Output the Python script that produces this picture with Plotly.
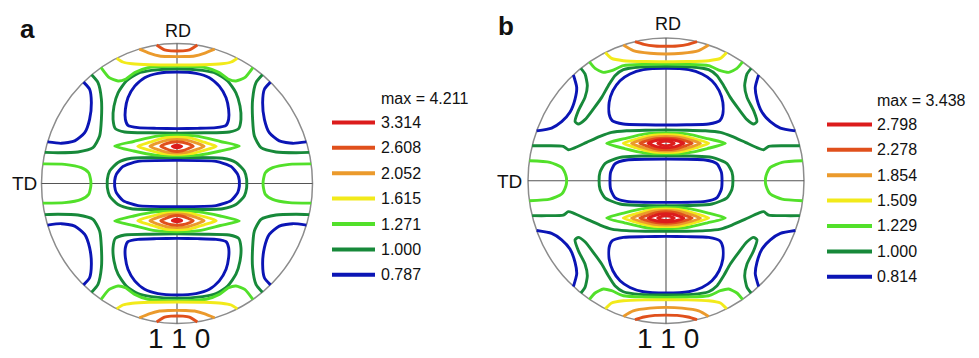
import plotly.graph_objects as go

W, H = 979, 358
FONT = "Liberation Sans, Arial, sans-serif"

# ---------------- legend data ----------------
A_LEVELS = ["3.314", "2.608", "2.052", "1.615", "1.271", "1.000", "0.787"]
A_MAX = "max = 4.211"
B_LEVELS = ["2.798", "2.278", "1.854", "1.509", "1.229", "1.000", "0.814"]
B_MAX = "max = 3.438"
LEVEL_COLORS = ["#dc1c1c", "#e0501c", "#eb9a2c", "#f2ea1a", "#52e02a", "#17893a", "#0b15b5"]

# ---------------- contour data (upper-left quadrant, unit circle) ----------------
# panel a
A_CAP_1 = [(-0.15, 0.989), (-0.092, 0.954), (-0.045, 0.947), (0, 0.946)]
A_CAP_2 = [(-0.278, 0.96), (-0.2, 0.93), (-0.129, 0.911), (-0.06, 0.907), (0, 0.906)]
A_CAP_3 = [(-0.445, 0.895), (-0.40, 0.868), (-0.33, 0.855), (-0.2, 0.848), (0, 0.846)]
A_CAP_4 = [(-0.56, 0.828), (-0.50, 0.756), (-0.435, 0.732), (-0.381, 0.744), (-0.312, 0.792),
           (-0.214, 0.827), (-0.1, 0.835), (0, 0.837)]
A_LOOP_DG = [(0, 0.820), (-0.189, 0.808), (-0.288, 0.787), (-0.374, 0.732), (-0.435, 0.648),
             (-0.465, 0.553), (-0.472, 0.458), (-0.455, 0.392), (-0.386, 0.368), (-0.2, 0.362), (0, 0.360)]
A_LOOP_BL = [(0, 0.796), (-0.140, 0.787), (-0.239, 0.756), (-0.312, 0.696), (-0.362, 0.613),
             (-0.381, 0.530), (-0.381, 0.458), (-0.362, 0.415), (-0.288, 0.399), (-0.15, 0.394), (0, 0.392)]
A_SPOT_0 = [(0, 0.274), (-0.02, 0.271), (-0.035, 0.265), (-0.02, 0.258), (0, 0.255)]
A_SPOT_1 = [(0, 0.298), (-0.04, 0.295), (-0.085, 0.283), (-0.12, 0.266), (-0.085, 0.25), (-0.04, 0.234), (0, 0.229)]
A_SPOT_2 = [(0, 0.315), (-0.07, 0.31), (-0.14, 0.29), (-0.20, 0.266), (-0.14, 0.242), (-0.07, 0.223), (0, 0.218)]
A_SPOT_3 = [(0, 0.33), (-0.10, 0.324), (-0.20, 0.295), (-0.29, 0.266), (-0.20, 0.237), (-0.10, 0.213), (0, 0.208)]
A_SPOT_4 = [(0, 0.345), (-0.16, 0.337), (-0.32, 0.30), (-0.46, 0.268), (-0.32, 0.232), (-0.16, 0.203), (0, 0.198)]
A_CORNER_BL = [(-0.69, 0.724), (-0.645, 0.673), (-0.632, 0.577), (-0.645, 0.458), (-0.681, 0.363),
               (-0.755, 0.304), (-0.854, 0.287), (-0.955, 0.297)]
A_CORNER_DG = [(-0.63, 0.776), (-0.583, 0.720), (-0.558, 0.601), (-0.558, 0.458), (-0.571, 0.339),
               (-0.620, 0.256), (-0.731, 0.225), (-0.878, 0.220), (-0.975, 0.222)]
A_SIDE_LG = [(-0.99, 0.14), (-0.829, 0.137), (-0.706, 0.113), (-0.652, 0.077), (-0.638, 0.03), (-0.635, 0)]
A_CENTER_DG = [(0, 0.185), (-0.337, 0.18), (-0.435, 0.15), (-0.497, 0.089), (-0.514, 0.03), (-0.515, 0)]
A_CENTER_BL = [(0, 0.165), (-0.288, 0.158), (-0.398, 0.122), (-0.448, 0.065), (-0.46, 0.02), (-0.46, 0)]

# panel b
B_CAP_1 = [(-0.225, 0.974), (-0.16, 0.955), (-0.08, 0.944), (0, 0.942)]
B_CAP_2 = [(-0.309, 0.951), (-0.237, 0.912), (-0.116, 0.893), (0, 0.888)]
B_CAP_3 = [(-0.44, 0.898), (-0.394, 0.857), (-0.309, 0.841), (-0.15, 0.835), (0, 0.834)]
B_CAP_4 = [(-0.555, 0.832), (-0.514, 0.787), (-0.454, 0.759), (-0.394, 0.771), (-0.309, 0.806),
           (-0.15, 0.815), (0, 0.818)]
B_SPIKE_DG = [(-0.617, 0.787), (-0.587, 0.748), (-0.570, 0.666), (-0.587, 0.584), (-0.635, 0.491),
              (-0.659, 0.414), (-0.635, 0.397), (-0.587, 0.428), (-0.527, 0.502), (-0.466, 0.584),
              (-0.418, 0.666), (-0.370, 0.736), (-0.309, 0.778), (-0.188, 0.797), (0, 0.801)]
B_LOOP_BL = [(0, 0.787), (-0.164, 0.778), (-0.261, 0.748), (-0.333, 0.701), (-0.385, 0.631),
             (-0.412, 0.549), (-0.412, 0.467), (-0.39, 0.421), (-0.309, 0.397), (-0.15, 0.392), (0, 0.390)]
B_BAND_DG = [(-0.97, 0.245), (-0.865, 0.245), (-0.744, 0.241), (-0.708, 0.217), (-0.671, 0.227),
             (-0.575, 0.269), (-0.478, 0.311), (-0.394, 0.339), (-0.285, 0.350), (-0.15, 0.354), (0, 0.355)]
B_SPOT_0 = [(0, 0.278), (-0.03, 0.274), (-0.06, 0.262), (-0.03, 0.25), (0, 0.246)]
B_SPOT_1 = [(0, 0.288), (-0.05, 0.285), (-0.095, 0.275), (-0.13, 0.262), (-0.095, 0.248), (-0.05, 0.235), (0, 0.231)]
B_SPOT_2 = [(0, 0.298), (-0.07, 0.294), (-0.135, 0.28), (-0.19, 0.262), (-0.135, 0.243), (-0.07, 0.224), (0, 0.218)]
B_SPOT_3 = [(0, 0.31), (-0.09, 0.305), (-0.18, 0.285), (-0.25, 0.262), (-0.18, 0.237), (-0.09, 0.214), (0, 0.208)]
B_SPOT_4 = [(0, 0.322), (-0.11, 0.316), (-0.22, 0.29), (-0.31, 0.262), (-0.22, 0.232), (-0.11, 0.204), (0, 0.198)]
B_SPOT_5 = [(0, 0.335), (-0.15, 0.328), (-0.30, 0.295), (-0.43, 0.262), (-0.30, 0.225), (-0.15, 0.194), (0, 0.188)]
B_CORNER_BL = [(-0.671, 0.741), (-0.647, 0.654), (-0.659, 0.572), (-0.696, 0.479), (-0.756, 0.414),
               (-0.829, 0.369), (-0.937, 0.349)]
B_SIDE_LG = [(-0.99, 0.14), (-0.841, 0.129), (-0.756, 0.093), (-0.725, 0.035), (-0.72, 0)]
B_CENTER_DG = [(0, 0.175), (-0.333, 0.163), (-0.442, 0.12), (-0.478, 0.06), (-0.485, 0)]
B_CENTER_BL = [(0, 0.152), (-0.285, 0.145), (-0.370, 0.118), (-0.401, 0.06), (-0.406, 0)]

# (points, level index, symmetry)
A_CONTOURS = [
    (A_CORNER_BL, 6, "corner"), (A_LOOP_BL, 6, "u"), (A_CENTER_BL, 6, "uv"),
    (A_CORNER_DG, 5, "corner"), (A_LOOP_DG, 5, "u"), (A_CENTER_DG, 5, "uv"),
    (A_CAP_4, 4, "u"), (A_SPOT_4, 4, "u"), (A_SIDE_LG, 4, "side"),
    (A_CAP_3, 3, "u"), (A_SPOT_3, 3, "u"),
    (A_CAP_2, 2, "u"), (A_SPOT_2, 2, "u"),
    (A_CAP_1, 1, "u"), (A_SPOT_1, 1, "u"),
    (A_SPOT_0, 0, "u"),
]
B_CONTOURS = [
    (B_CORNER_BL, 6, "corner"), (B_LOOP_BL, 6, "u"), (B_CENTER_BL, 6, "uv"),
    (B_SPIKE_DG, 5, "u"), (B_BAND_DG, 5, "u"), (B_CENTER_DG, 5, "uv"),
    (B_CAP_4, 4, "u"), (B_SPOT_5, 4, "u"), (B_SIDE_LG, 4, "side"),
    (B_CAP_3, 3, "u"), (B_SPOT_4, 3, "u"),
    (B_CAP_2, 2, "u"), (B_SPOT_3, 2, "u"),
    (B_CAP_1, 1, "u"), (B_SPOT_2, 1, "u"),
    (B_SPOT_1, 0, "u"), (B_SPOT_0, 0, "u"),
]


def mirror(pts, su, sv):
    return [(su * u, sv * v) for u, v in pts]


def expand(pts, kind):
    if kind == "u":
        full = pts + mirror(pts[::-1], -1, 1)[1:]
        return [full, mirror(full, 1, -1)]
    if kind == "side":
        full = pts + mirror(pts[::-1], 1, -1)[1:]
        return [full, mirror(full, -1, 1)]
    if kind == "corner":
        return [mirror(pts, su, sv) for su in (1, -1) for sv in (1, -1)]
    if kind == "uv":
        q3 = mirror(pts[::-1], 1, -1)
        q4 = mirror(pts, -1, -1)
        q1 = mirror(pts[::-1], -1, 1)
        return [pts + q3[1:] + q4[1:] + q1[1:]]
    return [pts]


# pixel geometry of the two pole figures (centre, x-scale, y-scale)
PANELS = [
    dict(name="a", cx=177.0, cy=183.5, rx=135.5, ry=140.0, contours=A_CONTOURS,
         levels=A_LEVELS, maxtxt=A_MAX, leg_x0=332, leg_x1=375, leg_tx=379, leg_y0=98,
         label_xy=(27, 29), rd_xy=(178, 31), td_xy=(24, 183.5), hkl_xy=(179, 338.5)),
    dict(name="b", cx=666.0, cy=180.7, rx=138.0, ry=142.7, contours=B_CONTOURS,
         levels=B_LEVELS, maxtxt=B_MAX, leg_x0=827, leg_x1=872, leg_tx=875, leg_y0=100,
         label_xy=(506, 26), rd_xy=(668, 24), td_xy=(509, 181.5), hkl_xy=(668, 338.5)),
]
PAD = 1.03
LEG_DY = 25.4

fig = go.Figure()
layout_axes = {}
shapes = []
annotations = []

for i, p in enumerate(PANELS):
    xa = "x" if i == 0 else "x2"
    ya = "y" if i == 0 else "y2"
    xl = p["cx"] - PAD * p["rx"]
    xr = p["cx"] + PAD * p["rx"]
    yt = p["cy"] - PAD * p["ry"]
    yb = p["cy"] + PAD * p["ry"]
    xkey = "xaxis" if i == 0 else "xaxis2"
    ykey = "yaxis" if i == 0 else "yaxis2"
    layout_axes[xkey] = dict(domain=[xl / W, xr / W], range=[-PAD, PAD], visible=False,
                             anchor=ya, fixedrange=True)
    layout_axes[ykey] = dict(domain=[1 - yb / H, 1 - yt / H], range=[-PAD, PAD], visible=False,
                             anchor=xa, fixedrange=True)

    # circle and cross lines
    shapes.append(dict(type="circle", xref=xa, yref=ya, x0=-1, x1=1, y0=-1, y1=1,
                       line=dict(color="#8c8c8c", width=1.5), layer="below"))
    shapes.append(dict(type="line", xref=xa, yref=ya, x0=-1, x1=1, y0=0, y1=0,
                       line=dict(color="#555555", width=1.1), layer="below"))
    shapes.append(dict(type="line", xref=xa, yref=ya, x0=0, x1=0, y0=-1, y1=1,
                       line=dict(color="#555555", width=1.1), layer="below"))

    # contours grouped by level
    for lvl in range(len(LEVEL_COLORS) - 1, -1, -1):
        xs, ys = [], []
        for pts, li, kind in p["contours"]:
            if li != lvl:
                continue
            for poly in expand(pts, kind):
                xs += [q[0] for q in poly] + [None]
                ys += [q[1] for q in poly] + [None]
        if xs:
            fig.add_trace(go.Scatter(x=xs, y=ys, xaxis=xa, yaxis=ya, mode="lines",
                                     line=dict(color=LEVEL_COLORS[lvl], width=2.9,
                                               shape="spline", smoothing=0.6),
                                     connectgaps=False, hoverinfo="skip", showlegend=False))

    # legend
    annotations.append(dict(xref="paper", yref="paper", x=p["leg_tx"] / W, y=1 - p["leg_y0"] / H,
                            text=p["maxtxt"], showarrow=False, xanchor="left", yanchor="middle",
                            font=dict(family=FONT, size=16, color="#111111")))
    for k, lab in enumerate(p["levels"]):
        yy = p["leg_y0"] + (k + 1) * LEG_DY - 1
        shapes.append(dict(type="line", xref="paper", yref="paper",
                           x0=p["leg_x0"] / W, x1=p["leg_x1"] / W, y0=1 - yy / H, y1=1 - yy / H,
                           line=dict(color=LEVEL_COLORS[k], width=4)))
        annotations.append(dict(xref="paper", yref="paper", x=p["leg_tx"] / W, y=1 - yy / H,
                                text=lab, showarrow=False, xanchor="left", yanchor="middle",
                                font=dict(family=FONT, size=16, color="#111111")))

    # labels
    for key, txt, size, bold in [("label_xy", p["name"], 26, True), ("rd_xy", "RD", 18, False),
                                 ("td_xy", "TD", 19, False), ("hkl_xy", "1 1 0", 28, False)]:
        x, y = p[key]
        annotations.append(dict(xref="paper", yref="paper", x=x / W, y=1 - y / H,
                                text=f"<b>{txt}</b>" if bold else txt, showarrow=False,
                                xanchor="center", yanchor="middle",
                                font=dict(family=FONT, size=size, color="#111111")))

fig.update_layout(width=W, height=H, autosize=False, margin=dict(l=0, r=0, t=0, b=0, pad=0),
                  paper_bgcolor="white", plot_bgcolor="rgba(0,0,0,0)", showlegend=False,
                  shapes=shapes, annotations=annotations, **layout_axes)

fig.write_html("out.html", config={"displayModeBar": False})
